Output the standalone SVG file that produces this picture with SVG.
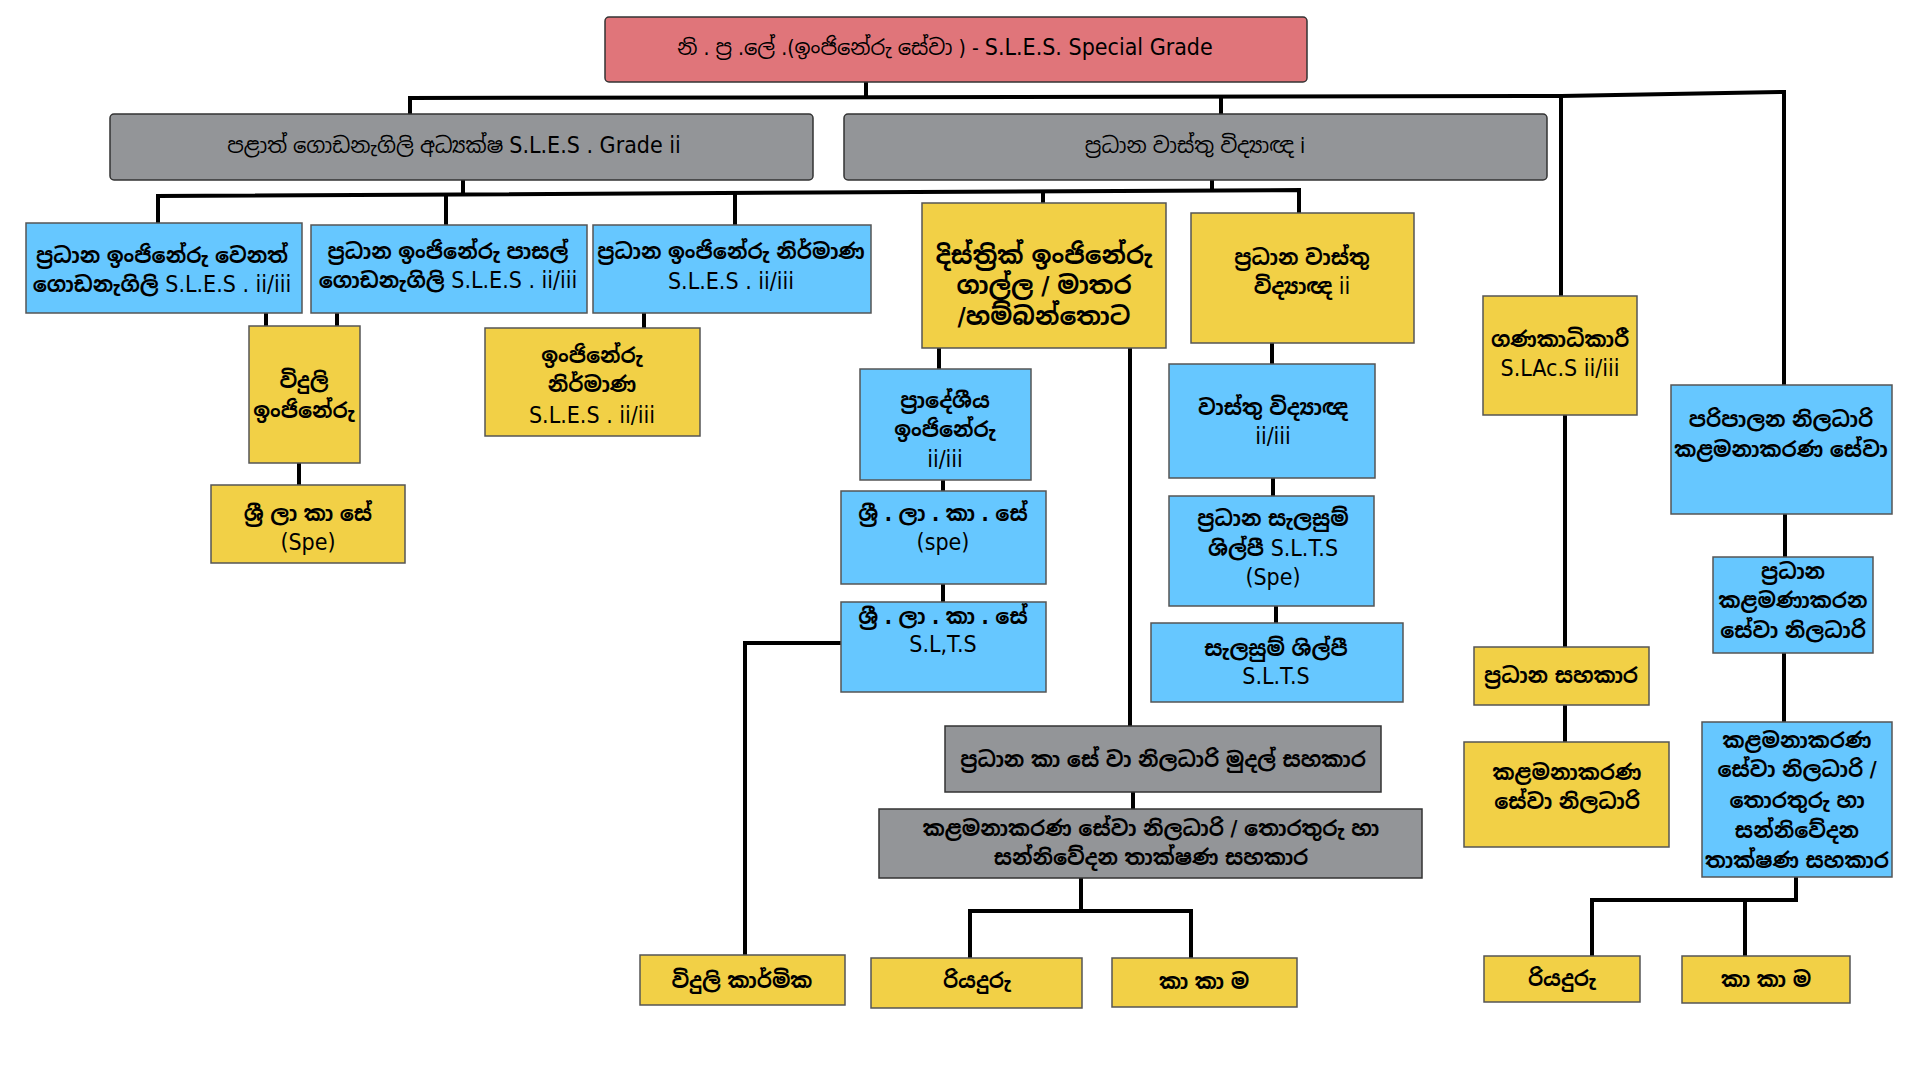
<svg xmlns="http://www.w3.org/2000/svg" width="1920" height="1080" viewBox="0 0 1920 1080">
<defs>
<style>
.bg{fill:#ffffff}
.red{fill:#E0757A;stroke:#333;stroke-width:1.5}
.gray{fill:#939598;stroke:#333;stroke-width:1.5}
.blue{fill:#66C7FF;stroke:#555;stroke-width:1.5}
.yel{fill:#F2D046;stroke:#555;stroke-width:1.5}
.ln{fill:none;stroke:#000;stroke-width:4;stroke-linejoin:miter}
text{font-family:"Liberation Sans Narrow","DejaVu Sans Condensed","Noto Sans Sinhala","Iskoola Pota",sans-serif;font-size:21px;fill:#000;text-anchor:middle;font-weight:bold}
.big{font-size:25px}
.mid{font-size:21px;font-weight:normal}
.lat{font-weight:normal;font-size:23px}
</style>
</defs>
<rect class="bg" x="0" y="0" width="1920" height="1080"/>
<g id="connectors">
<path class="ln" d="M866 82V98"/>
<path class="ln" d="M410 114V98L1561 96L1784 92V385"/>
<path class="ln" d="M1221 96V114"/>
<path class="ln" d="M1561 96V296"/>
<path class="ln" d="M463 180V194"/>
<path class="ln" d="M158 223V196L1299 190V213"/>
<path class="ln" d="M1212 180V191"/>
<path class="ln" d="M446 195V225"/>
<path class="ln" d="M735 194V225"/>
<path class="ln" d="M1043 191V203"/>
<path class="ln" d="M266 313V326"/>
<path class="ln" d="M337 313V326"/>
<path class="ln" d="M299 463V485"/>
<path class="ln" d="M644 313V328"/>
<path class="ln" d="M939 348V369"/>
<path class="ln" d="M943 480V491"/>
<path class="ln" d="M943 584V602"/>
<path class="ln" d="M841 643H745V955"/>
<path class="ln" d="M1130 348V726"/>
<path class="ln" d="M1133 792V809"/>
<path class="ln" d="M1081 878V911"/>
<path class="ln" d="M970 958V911H1191V958"/>
<path class="ln" d="M1272 343V364"/>
<path class="ln" d="M1273 478V496"/>
<path class="ln" d="M1276 606V623"/>
<path class="ln" d="M1565 415V647"/>
<path class="ln" d="M1565 705V742"/>
<path class="ln" d="M1785 514V557"/>
<path class="ln" d="M1784 653V722"/>
<path class="ln" d="M1796 877V900H1592V956"/>
<path class="ln" d="M1745 900V956"/>
</g>
<g id="n-top"><rect class="red" x="605" y="17" width="702" height="65" rx="4"/><text class="mid" x="945" y="55">නි . ප්‍ර .ලේ .(ඉංජිනේරු සේවා ) - <tspan class="lat">S.L.E.S. Special Grade</tspan></text></g>
<g id="n-g1"><rect class="gray" x="110" y="114" width="703" height="66" rx="4"/><text class="mid" x="454" y="153">පළාත් ගොඩනැගිලි අධ්‍යක්ෂ <tspan class="lat">S.L.E.S . Grade ii</tspan></text></g>
<g id="n-g2"><rect class="gray" x="844" y="114" width="703" height="66" rx="4"/><text class="mid" x="1195" y="153">ප්‍රධාන වාස්තු විද්‍යාඥ i</text></g>
<g id="n-a"><rect class="blue" x="26" y="223" width="276" height="90"/><text x="162" y="263">ප්‍රධාන ඉංජිනේරු වෙනත්</text><text x="162" y="292">ගොඩනැගිලි <tspan class="lat">S.L.E.S . ii/iii</tspan></text></g>
<g id="n-b"><rect class="blue" x="311" y="225" width="276" height="88"/><text x="448" y="259">ප්‍රධාන ඉංජිනේරු පාසල්</text><text x="448" y="288">ගොඩනැගිලි <tspan class="lat">S.L.E.S . ii/iii</tspan></text></g>
<g id="n-c"><rect class="blue" x="593" y="225" width="278" height="88"/><text x="731" y="259">ප්‍රධාන ඉංජිනේරු නිර්මාණ</text><text x="731" y="289"><tspan class="lat">S.L.E.S . ii/iii</tspan></text></g>
<g id="n-vi"><rect class="yel" x="249" y="326" width="111" height="137"/><text x="304" y="388">විදුලි</text><text x="304" y="418">ඉංජිනේරු</text></g>
<g id="n-sl1"><rect class="yel" x="211" y="485" width="194" height="78"/><text x="308" y="521">ශ්‍රී ලා කා සේ</text><text x="308" y="550"><tspan class="lat">(Spe)</tspan></text></g>
<g id="n-in"><rect class="yel" x="485" y="328" width="215" height="108"/><text x="592" y="363">ඉංජිනේරු</text><text x="592" y="392">නිර්මාණ</text><text x="592" y="423"><tspan class="lat">S.L.E.S . ii/iii</tspan></text></g>
<g id="n-d"><rect class="yel" x="922" y="203" width="244" height="145"/><text class="big" x="1044" y="264">දිස්ත්‍රික් ඉංජිනේරු</text><text class="big" x="1044" y="294">ගාල්ල / මාතර</text><text class="big" x="1044" y="325">/හම්බන්තොට</text></g>
<g id="n-e"><rect class="yel" x="1191" y="213" width="223" height="130"/><text x="1302" y="265">ප්‍රධාන වාස්තු</text><text x="1302" y="294">විද්‍යාඥ <tspan class="lat">ii</tspan></text></g>
<g id="n-pr"><rect class="blue" x="860" y="369" width="171" height="111"/><text x="945" y="408">ප්‍රාදේශීය</text><text x="945" y="437">ඉංජිනේරු</text><text x="945" y="467"><tspan class="lat">ii/iii</tspan></text></g>
<g id="n-sl2"><rect class="blue" x="841" y="491" width="205" height="93"/><text x="943" y="521">ශ්‍රී . ලා . කා . සේ</text><text x="943" y="550"><tspan class="lat">(spe)</tspan></text></g>
<g id="n-sl3"><rect class="blue" x="841" y="602" width="205" height="90"/><text x="943" y="624">ශ්‍රී . ලා . කා . සේ</text><text x="943" y="652"><tspan class="lat">S.L,T.S</tspan></text></g>
<g id="n-vk"><rect class="yel" x="640" y="955" width="205" height="50"/><text x="742" y="988">විදුලි කාර්මික</text></g>
<g id="n-kr"><rect class="gray" x="945" y="726" width="436" height="66"/><text x="1163" y="767">ප්‍රධාන කා සේ වා නිලධාරි මුදල් සහකාර</text></g>
<g id="n-km"><rect class="gray" x="879" y="809" width="543" height="69"/><text x="1151" y="836">කළමනාකරණ සේවා නිලධාරි / තොරතුරු හා</text><text x="1151" y="865">සන්නිවේදන තාක්ෂණ සහකාර</text></g>
<g id="n-r1"><rect class="yel" x="871" y="958" width="211" height="50"/><text x="977" y="988">රියදුරු</text></g>
<g id="n-k1"><rect class="yel" x="1112" y="958" width="185" height="49"/><text x="1204" y="989">කා කා ම</text></g>
<g id="n-va"><rect class="blue" x="1169" y="364" width="206" height="114"/><text x="1273" y="415">වාස්තු විද්‍යාඥ</text><text x="1273" y="444"><tspan class="lat">ii/iii</tspan></text></g>
<g id="n-ps"><rect class="blue" x="1169" y="496" width="205" height="110"/><text x="1273" y="526">ප්‍රධාන සැලසුම්</text><text x="1273" y="556">ශිල්පී <tspan class="lat">S.L.T.S</tspan></text><text x="1273" y="585"><tspan class="lat">(Spe)</tspan></text></g>
<g id="n-ss"><rect class="blue" x="1151" y="623" width="252" height="79"/><text x="1276" y="656">සැලසුම් ශිල්පී</text><text x="1276" y="684"><tspan class="lat">S.L.T.S</tspan></text></g>
<g id="n-gn"><rect class="yel" x="1483" y="296" width="154" height="119"/><text x="1560" y="347">ගණකාධිකාරී</text><text x="1560" y="376"><tspan class="lat">S.LAc.S ii/iii</tspan></text></g>
<g id="n-ps2"><rect class="yel" x="1474" y="647" width="175" height="58"/><text x="1561" y="683">ප්‍රධාන සහකාර</text></g>
<g id="n-kn"><rect class="yel" x="1464" y="742" width="205" height="105"/><text x="1567" y="780">කළමනාකරණ</text><text x="1567" y="809">සේවා නිලධාරි</text></g>
<g id="n-pn"><rect class="blue" x="1671" y="385" width="221" height="129"/><text x="1781" y="427">පරිපාලන නිලධාරි</text><text x="1781" y="457">කළමනාකරණ සේවා</text></g>
<g id="n-pk"><rect class="blue" x="1713" y="557" width="160" height="96"/><text x="1793" y="579">ප්‍රධාන</text><text x="1793" y="608">කළමණාකරන</text><text x="1793" y="638">සේවා නිලධාරි</text></g>
<g id="n-kt"><rect class="blue" x="1702" y="722" width="190" height="155"/><text x="1797" y="748">කළමනාකරණ</text><text x="1797" y="777">සේවා නිලධාරි /</text><text x="1797" y="808">තොරතුරු හා</text><text x="1797" y="838">සන්නිවේදන</text><text x="1797" y="868">තාක්ෂණ සහකාර</text></g>
<g id="n-r2"><rect class="yel" x="1484" y="956" width="156" height="46"/><text x="1562" y="986">රියදුරු</text></g>
<g id="n-k2"><rect class="yel" x="1682" y="956" width="168" height="47"/><text x="1766" y="987">කා කා ම</text></g>
</svg>
